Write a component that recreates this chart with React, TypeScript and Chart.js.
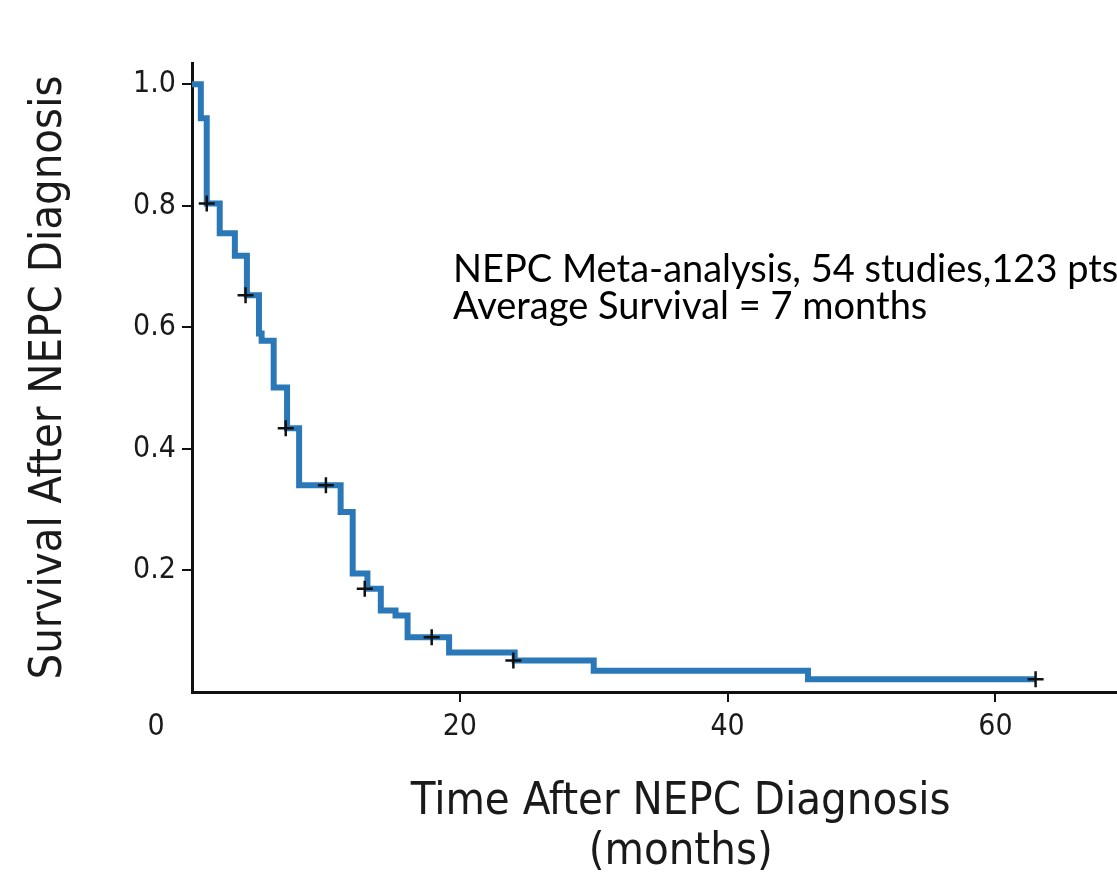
import React, { useEffect, useRef } from "react";
import { Chart, registerables } from "chart.js";

Chart.register(...registerables);

// Kaplan-Meier step curve: event times (months) and survival after each drop
const times = [0, 0.66, 1.1, 2.07, 3.2, 4.1, 5.0, 5.2, 6.1, 7.1, 8.0, 11.1, 12.0, 13.1, 14.1, 15.2, 16.1, 19.2, 24.1, 30.0, 46.0, 63.0];
const survival = [1.0, 0.944, 0.804, 0.755, 0.718, 0.653, 0.59, 0.578, 0.501, 0.434, 0.34, 0.296, 0.195, 0.17, 0.134, 0.126, 0.09, 0.065, 0.052, 0.035, 0.021, 0.021];

// Censoring marks
const censorTimes = [1.1, 4.0, 7.0, 10.0, 12.9, 17.9, 24.0, 63.0];
const censorSurvival = [0.804, 0.653, 0.434, 0.34, 0.17, 0.09, 0.052, 0.021];

const xTicks = [20, 40, 60];
const yTicks = [0.2, 0.4, 0.6, 0.8, 1.0];
const originLabel = "0";

const xTitle = ["Time After NEPC Diagnosis", "(months)"];
const yTitle = "Survival After NEPC Diagnosis";
const annotationLines = ["NEPC Meta-analysis, 54 studies,123 pts", "Average Survival = 7 months"];

const NARROW = '"Liberation Sans Narrow", "DejaVu Sans Condensed", "Arial Narrow", sans-serif';

export default function App() {
  const ref = useRef<HTMLCanvasElement>(null);

  useEffect(() => {
    if (!ref.current) return;

    const annot = {
      id: "annot",
      afterDraw(chart: any) {
        const ctx = chart.ctx;
        ctx.save();
        ctx.fillStyle = "#000";
        ctx.font = '38px Lato, "Open Sans", sans-serif';
        ctx.textAlign = "left";
        ctx.textBaseline = "alphabetic";
        ctx.fillText(annotationLines[0], 453, 282);
        ctx.fillText(annotationLines[1], 453, 319);
        const xs = chart.scales.x;
        ctx.font = `30px ${NARROW}`;
        ctx.fillStyle = "#1a1a1a";
        ctx.textAlign = "center";
        ctx.textBaseline = "middle";
        ctx.fillText(originLabel, xs.left - 36, 727);
        ctx.restore();
      },
    };

    const chart = new Chart(ref.current, {
      type: "line",
      data: {
        datasets: [
          {
            type: "scatter",
            data: censorTimes.map((t, i) => ({ x: t, y: censorSurvival[i] })),
            pointStyle: "cross",
            pointRadius: 8,
            pointBorderWidth: 2.5,
            borderColor: "#111",
            backgroundColor: "#111",
            showLine: false,
            order: 0,
          } as any,
          {
            type: "line",
            data: times.map((t, i) => ({ x: t, y: survival[i] })),
            stepped: "before",
            borderColor: "#2a78b8",
            borderWidth: 6,
            pointRadius: 0,
            fill: false,
            order: 1,
          } as any,
        ],
      },
      plugins: [annot],
      options: {
        animation: false,
        responsive: true,
        maintainAspectRatio: false,
        events: [],
        layout: { padding: { top: 63, right: 0, left: 0, bottom: 0 } },
        plugins: { legend: { display: false }, tooltip: { enabled: false }, title: { display: false } },
        scales: {
          x: {
            type: "linear",
            min: 0,
            max: 73,
            afterFit: (s: any) => {
              s.height = 191;
            },
            afterBuildTicks: (s: any) => {
              s.ticks = xTicks.map((v) => ({ value: v }));
            },
            border: { display: true, color: "#111", width: 3 },
            grid: { display: true, drawOnChartArea: false, drawTicks: true, tickLength: 10, color: "#111", lineWidth: 2 },
            ticks: {
              padding: 7,
              color: "#1a1a1a",
              font: { family: NARROW, size: 30 },
              maxRotation: 0,
              callback: (v: any) => String(v),
            },
            title: {
              display: true,
              text: xTitle,
              color: "#1a1a1a",
              font: { family: NARROW, size: 45, lineHeight: 1.1 },
              padding: { top: 0, bottom: 6 },
            },
          },
          y: {
            type: "linear",
            min: 0,
            max: 1.035,
            afterFit: (s: any) => {
              s.width = 192;
            },
            afterBuildTicks: (s: any) => {
              s.ticks = yTicks.map((v) => ({ value: v }));
            },
            border: { display: true, color: "#111", width: 3 },
            grid: { display: true, drawOnChartArea: false, drawTicks: true, tickLength: 10, color: "#111", lineWidth: 2 },
            ticks: {
              padding: 6,
              color: "#1a1a1a",
              font: { family: NARROW, size: 30 },
              callback: (v: any) => Number(v).toFixed(1),
            },
            title: {
              display: true,
              text: yTitle,
              color: "#1a1a1a",
              font: { family: NARROW, size: 45, lineHeight: 1.0 },
              padding: { top: 27, bottom: 0 },
            },
          },
        },
      },
    });

    return () => chart.destroy();
  }, []);

  return (
    <div style={{ position: "fixed", left: 0, top: 0, width: 1117, height: 883, overflow: "hidden", background: "#fff" }}>
      <div style={{ position: "relative", width: 1180, height: 883 }}>
        <canvas ref={ref} />
      </div>
    </div>
  );
}
